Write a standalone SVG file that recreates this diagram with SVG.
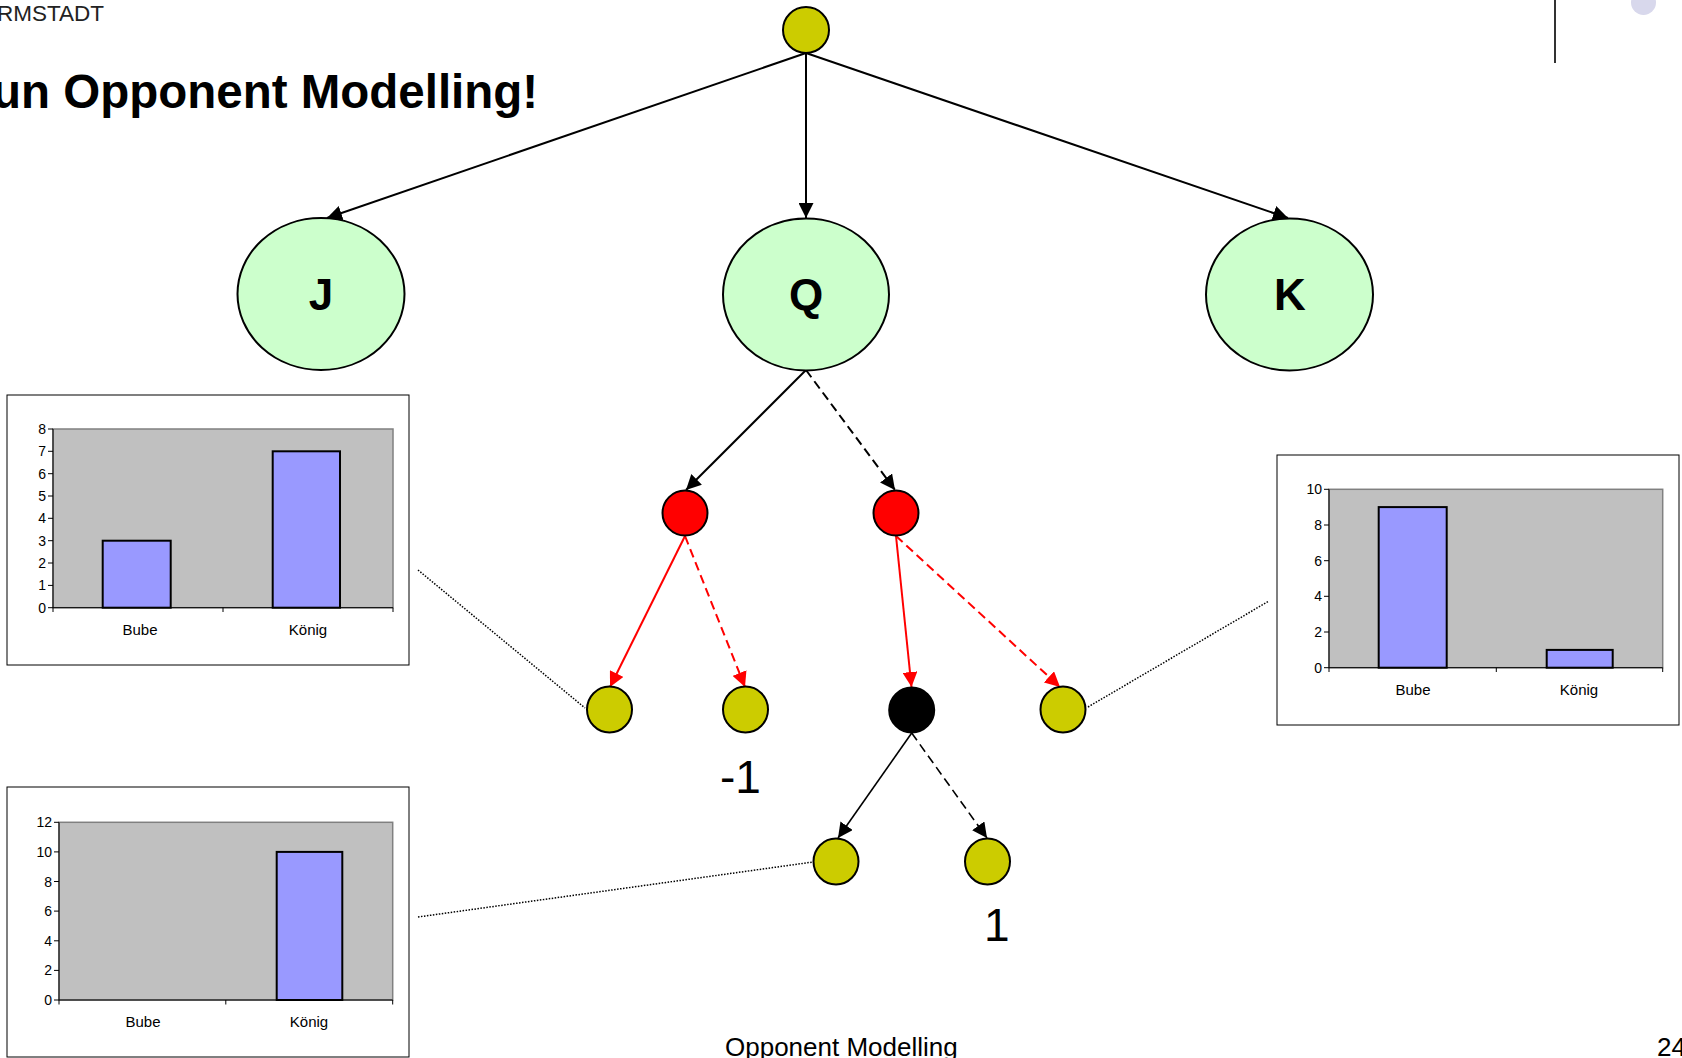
<svg xmlns="http://www.w3.org/2000/svg" width="1682" height="1058" viewBox="0 0 1682 1058">
<defs>
<style>
text{font-family:"Liberation Sans",Arial,sans-serif;fill:#000}
.big{font-size:44px;font-weight:bold;text-anchor:middle}
.val{font-size:46px}
.ax{font-size:14px;text-anchor:end}
.cat{font-size:15px;text-anchor:middle}
.green{fill:#ccffcc;stroke:#000;stroke-width:2}
.yel{fill:#cccc00;stroke:#000;stroke-width:2}
.red{fill:#ff0000;stroke:#000;stroke-width:2}
.blk{fill:#000;stroke:#000;stroke-width:2}
.e{stroke:#000;stroke-width:2;fill:none}
.er{stroke:#ff0000;stroke-width:2;fill:none}
.dash{stroke-dasharray:9 5}
.dot{stroke:#000;stroke-width:1.5;stroke-dasharray:1.5 1.5;fill:none}
.frame{fill:#fff;stroke:#000;stroke-width:1}
.plot{fill:#c0c0c0;stroke:#808080;stroke-width:1.5}
.axl{stroke:#000;stroke-width:1;fill:none}
.bar{fill:#9999ff;stroke:#000;stroke-width:2}
</style>
<marker id="ab" markerUnits="userSpaceOnUse" markerWidth="16" markerHeight="15" refX="15" refY="7.5" orient="auto" viewBox="0 0 16 15"><path d="M0,0 L15,7.5 L0,15 z" fill="#000"/></marker>
<marker id="ar" markerUnits="userSpaceOnUse" markerWidth="16" markerHeight="15" refX="15" refY="7.5" orient="auto" viewBox="0 0 16 15"><path d="M0,0 L15,7.5 L0,15 z" fill="#ff0000"/></marker>
</defs>
<rect width="1682" height="1058" fill="#fff"/>

<g id="header">
<text x="104" y="21" style="font-size:22.5px;fill:#222;text-anchor:end">RMSTADT</text>
<text x="-8" y="108" style="font-size:47.5px;font-weight:bold">un Opponent Modelling!</text>
<line x1="1555" y1="0" x2="1555" y2="63" stroke="#333" stroke-width="2"/>
<circle cx="1643.5" cy="2.5" r="12.5" fill="#d8d8ec"/>
</g>

<g id="connectors">
<line class="e" x1="806" y1="53" x2="327" y2="218" marker-end="url(#ab)"/>
<line class="e" x1="806" y1="53" x2="806" y2="218" marker-end="url(#ab)"/>
<line class="e" x1="806" y1="53" x2="1288" y2="218" marker-end="url(#ab)"/>
<line class="e" x1="806" y1="370" x2="686" y2="490" marker-end="url(#ab)"/>
<line class="e dash" x1="806" y1="370" x2="895" y2="490" marker-end="url(#ab)"/>
<line class="er" x1="685" y1="536" x2="610" y2="687" marker-end="url(#ar)"/>
<line class="er dash" x1="685" y1="536" x2="745" y2="687" marker-end="url(#ar)"/>
<line class="er" x1="896" y1="536" x2="911.5" y2="687" marker-end="url(#ar)"/>
<line class="er dash" x1="896" y1="536" x2="1060" y2="687" marker-end="url(#ar)"/>
<line class="e" style="stroke-width:1.6" x1="911.7" y1="733" x2="838" y2="838" marker-end="url(#ab)"/>
<line class="e dash" style="stroke-width:1.6" x1="911.7" y1="733" x2="987" y2="838" marker-end="url(#ab)"/>
<line class="dot" x1="418" y1="570" x2="585" y2="708"/>
<line class="dot" x1="1088" y1="707" x2="1269" y2="601"/>
<line class="dot" x1="418" y1="917" x2="813" y2="862"/>
</g>

<g id="root"><circle class="yel" cx="806" cy="30" r="23"/></g>
<g id="nodeJ"><ellipse class="green" cx="321" cy="294" rx="83.5" ry="76"/><text class="big" x="321" y="310">J</text></g>
<g id="nodeQ"><ellipse class="green" cx="806" cy="294.5" rx="83" ry="76"/><text class="big" x="806" y="310">Q</text></g>
<g id="nodeK"><ellipse class="green" cx="1289.5" cy="294.5" rx="83.5" ry="76"/><text class="big" x="1290" y="310">K</text></g>
<g id="red1"><circle class="red" cx="685" cy="513" r="22.5"/></g>
<g id="red2"><circle class="red" cx="896" cy="513" r="22.5"/></g>
<g id="leaf1"><ellipse class="yel" cx="609.5" cy="709.5" rx="22.5" ry="23"/></g>
<g id="leaf2"><ellipse class="yel" cx="745.5" cy="709.5" rx="22.5" ry="23"/></g>
<g id="chance"><circle class="blk" cx="911.7" cy="710" r="22.5"/></g>
<g id="leaf4"><ellipse class="yel" cx="1063" cy="709.5" rx="22.5" ry="23"/></g>
<g id="leaf5"><ellipse class="yel" cx="836" cy="861.5" rx="22.5" ry="23"/></g>
<g id="leaf6"><ellipse class="yel" cx="987.5" cy="861.5" rx="22.5" ry="23"/></g>

<g id="values">
<text class="val" x="720" y="793">-1</text>
<text class="val" x="984" y="941">1</text>
</g>

<g id="chart1">
<rect class="frame" x="7" y="395" width="402" height="270"/>
<rect class="plot" x="53" y="429" width="340" height="178.7"/>
<path class="axl" d="M53,429 V607.7 H393 M48,607.7 H53 M48,585.4 H53 M48,563 H53 M48,540.7 H53 M48,518.3 H53 M48,496 H53 M48,473.7 H53 M48,451.3 H53 M48,429 H53 M53,607.7 V612 M223,607.7 V612 M393,607.7 V612"/>
<rect class="bar" x="102.7" y="540.7" width="68" height="67"/>
<rect class="bar" x="272.7" y="451.3" width="67.3" height="156.4"/>
<text class="ax" x="46" y="612.7">0</text>
<text class="ax" x="46" y="590.4">1</text>
<text class="ax" x="46" y="568">2</text>
<text class="ax" x="46" y="545.7">3</text>
<text class="ax" x="46" y="523.3">4</text>
<text class="ax" x="46" y="501">5</text>
<text class="ax" x="46" y="478.7">6</text>
<text class="ax" x="46" y="456.3">7</text>
<text class="ax" x="46" y="434">8</text>
<text class="cat" x="140" y="635">Bube</text>
<text class="cat" x="308" y="635">König</text>
</g>

<g id="chart2">
<rect class="frame" x="1277" y="455" width="402" height="270"/>
<rect class="plot" x="1329" y="489.3" width="333.7" height="178.4"/>
<path class="axl" d="M1329,489.3 V667.7 H1662.7 M1324,667.7 H1329 M1324,632 H1329 M1324,596.3 H1329 M1324,560.7 H1329 M1324,525 H1329 M1324,489.3 H1329 M1329,667.7 V672 M1496.3,667.7 V672 M1662.7,667.7 V672"/>
<rect class="bar" x="1378.7" y="507.1" width="68" height="160.6"/>
<rect class="bar" x="1546.7" y="649.9" width="66" height="17.8"/>
<text class="ax" x="1322" y="672.7">0</text>
<text class="ax" x="1322" y="637">2</text>
<text class="ax" x="1322" y="601.3">4</text>
<text class="ax" x="1322" y="565.7">6</text>
<text class="ax" x="1322" y="530">8</text>
<text class="ax" x="1322" y="494.3">10</text>
<text class="cat" x="1413" y="695">Bube</text>
<text class="cat" x="1579" y="695">König</text>
</g>

<g id="chart3">
<rect class="frame" x="7" y="787" width="402" height="270"/>
<rect class="plot" x="59" y="822.3" width="333.7" height="177.7"/>
<path class="axl" d="M59,822.3 V1000 H392.7 M54,1000 H59 M54,970.4 H59 M54,940.8 H59 M54,911.1 H59 M54,881.5 H59 M54,851.9 H59 M54,822.3 H59 M59,1000 V1004.5 M225.8,1000 V1004.5 M392.7,1000 V1004.5"/>
<rect class="bar" x="276.7" y="851.9" width="65.6" height="148.1"/>
<text class="ax" x="52" y="1005">0</text>
<text class="ax" x="52" y="975.4">2</text>
<text class="ax" x="52" y="945.8">4</text>
<text class="ax" x="52" y="916.1">6</text>
<text class="ax" x="52" y="886.5">8</text>
<text class="ax" x="52" y="856.9">10</text>
<text class="ax" x="52" y="827.3">12</text>
<text class="cat" x="143" y="1027">Bube</text>
<text class="cat" x="309" y="1027">König</text>
</g>

<g id="footer">
<text x="725" y="1056" style="font-size:26px">Opponent Modelling</text>
<text x="1657" y="1056" style="font-size:26px">24</text>
</g>
</svg>
